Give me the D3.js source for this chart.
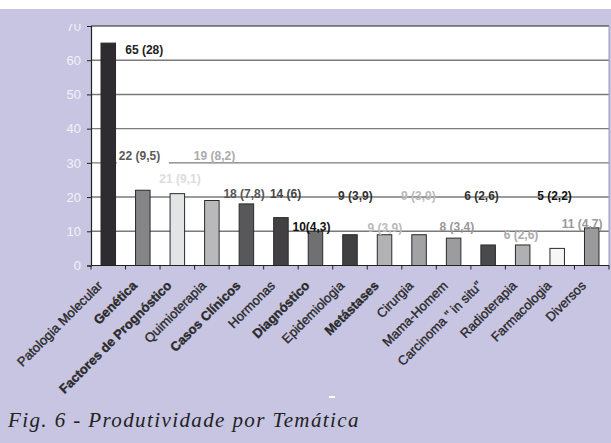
<!DOCTYPE html>
<html>
<head>
<meta charset="utf-8">
<script src="https://cdn.jsdelivr.net/npm/d3@7"></script>
<style>
  body { margin: 0; background: #fff; }
  svg { display: block; }
</style>
</head>
<body>
<div id="chart"></div>
<script>
// data
const categories = ['Patologia Molecular', 'Genética', 'Factores de Prognóstico', 'Quimioterapia',
  'Casos Clínicos', 'Hormonas', 'Diagnóstico', 'Epidemiologia', 'Metástases', 'Cirurgia',
  'Mama-Homem', 'Carcinoma " in situ"', 'Radioterapia', 'Farmacologia', 'Diversos']
const values = [65, 22, 21, 19, 18, 14, 10, 9, 9, 9, 8, 6, 6, 5, 11]
const valueLabels = ['65 (28)', '22 (9,5)', '21 (9,1)', '19 (8,2)', '18 (7,8)', '14 (6)', '10(4,3)',
  '9 (3,9)', '9 (3,9)', '9 (3,9)', '8 (3,4)', '6 (2,6)', '6 (2,6)', '5 (2,2)', '11 (4,7)']
const yTicks = [0, 10, 20, 30, 40, 50, 60, 70]

// styling / label placement
const barColors = ['#2e2c31', '#858588', '#e3e4e6', '#b9b9bb', '#58585a', '#424043', '#707072',
  '#404042', '#b2b2b4', '#a2a2a5', '#9c9c9e', '#4a4a4c', '#b0b0b2', '#f6f6f6', '#9a9a9c']
const labelColors = ['#222', '#5a5a5a', '#dcdcdc', '#ababab', '#555', '#444', '#111',
  '#333', '#bbb', '#bbb', '#999', '#333', '#aaa', '#111', '#999']
const labelDx = [17, -24, -18, -18, -23, -11, -23, -12, -17, -18, -14, -24, -19, -20, -30]
const labelAt = [63, 32.2, 25.2, 32.2, 21.1, 21.1, 11.2, 20.3, 10.9, 20.3, 11.2, 20.3, 9.1, 20.3, 12.1]
const boldCats = ['Genética', 'Factores de Prognóstico', 'Casos Clínicos', 'Diagnóstico', 'Metástases']

const W = 611, H = 443
const margin = {left: 91, right: 2, top: 26}

const svg = d3.select('#chart').append('svg')
  .attr('width', W).attr('height', H)

svg.append('rect').attr('x', 0).attr('y', 9).attr('width', W).attr('height', H - 9)
  .attr('fill', '#c8c5e2')

const x = d3.scaleBand().domain(categories)
  .range([margin.left, W - margin.right]).paddingInner(0).paddingOuter(0)
const y = d3.scaleLinear().domain([0, 70]).range([265.5, margin.top])

// plot area
svg.append('rect')
  .attr('x', margin.left).attr('y', y(70))
  .attr('width', x.range()[1] - margin.left).attr('height', y(0) - y(70))
  .attr('fill', '#fff')

// gridlines
svg.append('g').selectAll('line')
  .data(yTicks.filter(d => d > 0 && d < 70))
  .enter().append('line')
  .attr('x1', margin.left).attr('x2', x.range()[1])
  .attr('y1', d => y(d)).attr('y2', d => y(d))
  .attr('stroke', '#7a7a7a').attr('stroke-width', 1.4)

// top border + right border
svg.append('line').attr('x1', margin.left).attr('x2', x.range()[1])
  .attr('y1', y(70)).attr('y2', y(70)).attr('stroke', '#222').attr('stroke-width', 1.2)
svg.append('line').attr('x1', x.range()[1]).attr('x2', x.range()[1])
  .attr('y1', y(70)).attr('y2', y(0)).attr('stroke', '#9a98b8').attr('stroke-width', 1)

// white patch behind the 22 label (covers gridline like the original)
svg.append('rect')
  .attr('x', x(categories[1]) + x.bandwidth() / 2 - 26).attr('y', y(33.5))
  .attr('width', 52).attr('height', y(28) - y(33.5))
  .attr('fill', '#fff')

// bars
const bw = x.bandwidth() * 0.42
svg.append('g').selectAll('rect')
  .data(values)
  .enter().append('rect')
  .attr('x', (d, i) => x(categories[i]) + x.bandwidth() / 2 - bw / 2)
  .attr('y', d => y(d))
  .attr('width', bw)
  .attr('height', d => y(0) - y(d))
  .attr('fill', (d, i) => barColors[i])
  .attr('stroke', '#2a2a2a').attr('stroke-width', 1)

// value labels
svg.append('g').selectAll('text')
  .data(valueLabels)
  .enter().append('text')
  .attr('x', (d, i) => x(categories[i]) + x.bandwidth() / 2 + labelDx[i])
  .attr('y', (d, i) => y(labelAt[i]))
  .attr('dy', '0.35em')
  .attr('font-family', 'Liberation Sans, Arial, sans-serif')
  .attr('font-size', 12).attr('font-weight', 'bold')
  .attr('fill', (d, i) => labelColors[i])
  .text(d => d)

// y axis (the 70 label is cut at the top in the original)
svg.append('clipPath').attr('id', 'yclip')
  .append('rect').attr('x', 0).attr('y', 24).attr('width', W).attr('height', 300)
const yWrap = svg.append('g').attr('clip-path', 'url(#yclip)')
const yAxis = yWrap.append('g')
  .attr('transform', `translate(${margin.left},0)`)
  .call(d3.axisLeft(y).tickValues(yTicks).tickSize(4).tickPadding(6))
yAxis.select('.domain').attr('stroke', '#222').attr('stroke-width', 1.2)
yAxis.selectAll('.tick line').attr('stroke', '#222')
yAxis.selectAll('.tick text')
  .attr('fill', '#f2f2f8')
  .attr('font-family', 'Liberation Sans, Arial, sans-serif')
  .attr('font-size', 13)

// x axis
const xAxis = svg.append('g').attr('transform', `translate(0,${y(0)})`)
xAxis.append('line').attr('x1', margin.left).attr('x2', x.range()[1])
  .attr('y1', 0).attr('y2', 0).attr('stroke', '#222').attr('stroke-width', 1.2)
xAxis.selectAll('line.tk')
  .data(categories.concat(['end']))
  .enter().append('line').attr('class', 'tk')
  .attr('x1', (d, i) => margin.left + i * x.bandwidth())
  .attr('x2', (d, i) => margin.left + i * x.bandwidth())
  .attr('y1', 0).attr('y2', 4).attr('stroke', '#222')

xAxis.selectAll('text')
  .data(categories)
  .enter().append('text')
  .attr('transform', d => `translate(${x(d) + x.bandwidth() / 2 - 5},${21}) rotate(-45)`)
  .attr('text-anchor', 'end')
  .attr('font-family', 'Liberation Sans, Arial, sans-serif')
  .attr('font-size', 13)
  .attr('font-weight', d => boldCats.includes(d) ? 'bold' : 'normal')
  .attr('fill', '#2a2a2a')
  .attr('stroke', '#2a2a2a').attr('stroke-width', 0.35)
  .text(d => d)

// little white mark
svg.append('rect').attr('x', 329).attr('y', 396).attr('width', 6).attr('height', 2).attr('fill', '#fff')

// caption
svg.append('text')
  .attr('x', 8).attr('y', 427)
  .attr('font-family', 'Liberation Serif, Times New Roman, serif')
  .attr('font-style', 'italic')
  .attr('font-size', 21)
  .attr('letter-spacing', 1.4)
  .attr('fill', '#222')
  .text('Fig. 6 - Produtividade por Temática')
</script>
</body>
</html>
